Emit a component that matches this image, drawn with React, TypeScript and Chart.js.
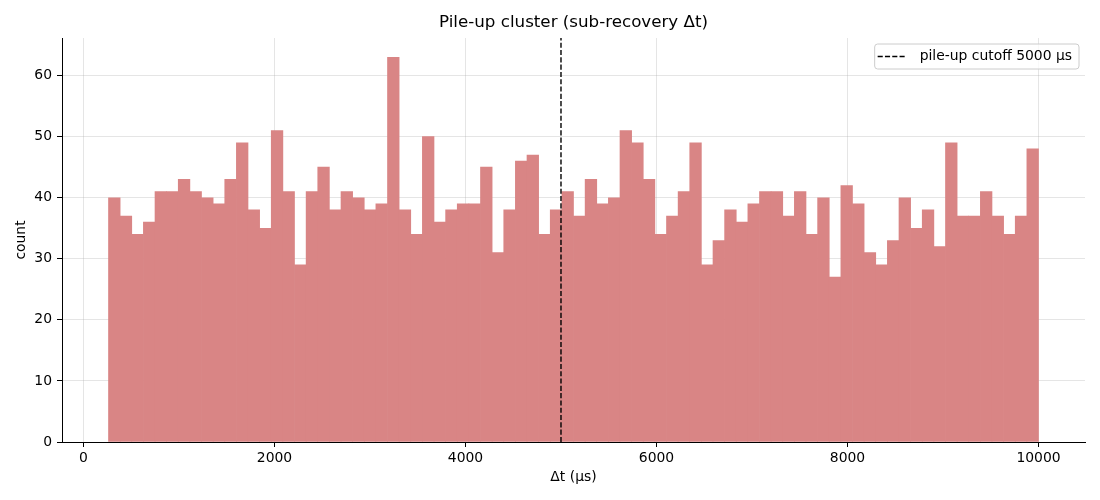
import React, { useEffect, useRef } from "react";
import { Chart, registerables } from "chart.js";

Chart.register(...registerables);

const TITLE = "Pile-up cluster (sub-recovery Δt)";
const X_LABEL = "Δt (µs)";
const Y_LABEL = "count";
const CUTOFF_LABEL = "pile-up cutoff 5000 µs";
const CUTOFF = 5000;

// histogram bin range (µs)
const BIN_START = 262;
const BIN_END = 10000;

// counts per bin (80 bins)
const COUNTS = [
  40, 37, 34, 36, 41, 41, 43, 41, 40, 39,
  43, 49, 38, 35, 51, 41, 29, 41, 45, 38,
  41, 40, 38, 39, 63, 38, 34, 50, 36, 38,
  39, 39, 45, 31, 38, 46, 47, 34, 38, 41,
  37, 43, 39, 40, 51, 49, 43, 34, 37, 41,
  49, 29, 33, 38, 36, 39, 41, 41, 37, 41,
  34, 40, 27, 42, 39, 31, 29, 33, 40, 35,
  38, 32, 49, 37, 37, 41, 37, 34, 37, 48,
];

const X_TICKS = [0, 2000, 4000, 6000, 8000, 10000];
const Y_TICKS = [0, 10, 20, 30, 40, 50, 60];

const X_MIN = -225;
const X_MAX = 10487;
const Y_MAX = 66.15;

const FONT = "'DejaVu Sans', 'Liberation Sans', sans-serif";
const BAR_COLOR = "rgb(217, 133, 133)";
const GRID_COLOR = "rgba(176, 176, 176, 0.33)";
const DASH = [5.1, 2.2];
const TICK_SIZE = 13.9;
const TITLE_SIZE = 16.7;

const titlePlugin = {
  id: "mplTitle",
  afterDraw(chart: any) {
    const { ctx, chartArea } = chart;
    ctx.save();
    ctx.font = `${TITLE_SIZE}px ${FONT}`;
    ctx.fillStyle = "#000";
    ctx.textAlign = "center";
    ctx.textBaseline = "middle";
    ctx.fillText(TITLE, (chartArea.left + chartArea.right) / 2, 23);
    ctx.restore();
  },
};

const legendPlugin = {
  id: "mplLegend",
  afterDraw(chart: any) {
    const { ctx, chartArea } = chart;
    const ds = chart.data.datasets[0];
    ctx.save();
    ctx.font = `${TICK_SIZE}px ${FONT}`;
    const tw = ctx.measureText(ds.label).width;
    const boxRight = chartArea.right - 6;
    const boxTop = chartArea.top + 6;
    const boxH = 25;
    const textRight = boxRight - 7;
    const textLeft = textRight - tw;
    const boxLeft = textLeft - 45;
    const r = 3;
    ctx.beginPath();
    ctx.moveTo(boxLeft + r, boxTop);
    ctx.lineTo(boxRight - r, boxTop);
    ctx.quadraticCurveTo(boxRight, boxTop, boxRight, boxTop + r);
    ctx.lineTo(boxRight, boxTop + boxH - r);
    ctx.quadraticCurveTo(boxRight, boxTop + boxH, boxRight - r, boxTop + boxH);
    ctx.lineTo(boxLeft + r, boxTop + boxH);
    ctx.quadraticCurveTo(boxLeft, boxTop + boxH, boxLeft, boxTop + boxH - r);
    ctx.lineTo(boxLeft, boxTop + r);
    ctx.quadraticCurveTo(boxLeft, boxTop, boxLeft + r, boxTop);
    ctx.closePath();
    ctx.fillStyle = "rgba(255,255,255,0.8)";
    ctx.fill();
    ctx.strokeStyle = "rgb(204,204,204)";
    ctx.lineWidth = 1;
    ctx.stroke();

    const cy = boxTop + boxH / 2;
    ctx.beginPath();
    ctx.setLineDash(DASH);
    ctx.strokeStyle = "#000";
    ctx.lineWidth = 1.4;
    ctx.moveTo(boxLeft + 3, cy);
    ctx.lineTo(boxLeft + 30, cy);
    ctx.stroke();
    ctx.setLineDash([]);

    ctx.fillStyle = "#000";
    ctx.textAlign = "left";
    ctx.textBaseline = "middle";
    ctx.fillText(ds.label, textLeft, cy);
    ctx.restore();
  },
};

export default function App() {
  const ref = useRef<HTMLCanvasElement | null>(null);

  useEffect(() => {
    if (!ref.current) return;
    const binWidth = (BIN_END - BIN_START) / COUNTS.length;
    const barData = COUNTS.map((c, i) => ({ x: BIN_START + (i + 0.5) * binWidth, y: c }));

    const chart = new Chart(ref.current, {
      type: "bar",
      data: {
        datasets: [
          {
            type: "line",
            label: CUTOFF_LABEL,
            data: [
              { x: CUTOFF, y: 0 },
              { x: CUTOFF, y: Y_MAX },
            ],
            borderColor: "#000",
            borderWidth: 1.4,
            borderDash: DASH,
            pointRadius: 0,
            fill: false,
            order: 0,
          } as any,
          {
            type: "bar",
            label: "Δt",
            data: barData,
            backgroundColor: BAR_COLOR,
            borderWidth: 0,
            barPercentage: 1,
            categoryPercentage: 1,
            order: 1,
          } as any,
        ],
      },
      options: {
        responsive: false,
        animation: false,
        devicePixelRatio: 1,
        layout: { padding: { top: 38, right: 15, left: 0, bottom: 0 } },
        plugins: {
          legend: { display: false },
          title: { display: false },
          tooltip: { enabled: false },
        },
        scales: {
          x: {
            type: "linear",
            min: X_MIN,
            max: X_MAX,
            offset: false,
            z: 1,
            afterFit: (s: any) => {
              s.height = 58;
            },
            afterBuildTicks: (s: any) => {
              s.ticks = X_TICKS.map((v) => ({ value: v }));
            },
            grid: {
              offset: false,
              color: GRID_COLOR,
              lineWidth: 1,
              drawTicks: true,
              tickLength: 5,
              tickColor: "#000",
              tickWidth: 1,
            },
            border: { display: true, color: "#000", width: 1 },
            ticks: {
              autoSkip: false,
              maxRotation: 0,
              padding: 3,
              color: "#000",
              font: { family: FONT, size: TICK_SIZE },
              callback: (v: any) => String(v),
            },
            title: {
              display: true,
              text: X_LABEL,
              color: "#000",
              font: { family: FONT, size: TICK_SIZE },
              padding: { top: 0, bottom: 14 },
            },
          },
          y: {
            type: "linear",
            min: 0,
            max: Y_MAX,
            z: 1,
            afterFit: (s: any) => {
              s.width = 62;
            },
            afterBuildTicks: (s: any) => {
              s.ticks = Y_TICKS.map((v) => ({ value: v }));
            },
            grid: {
              color: GRID_COLOR,
              lineWidth: 1,
              drawTicks: true,
              tickLength: 5,
              tickColor: "#000",
              tickWidth: 1,
            },
            border: { display: true, color: "#000", width: 1 },
            ticks: {
              padding: 5,
              color: "#000",
              font: { family: FONT, size: TICK_SIZE },
              callback: (v: any) => String(v),
            },
            title: {
              display: true,
              text: Y_LABEL,
              color: "#000",
              font: { family: FONT, size: TICK_SIZE },
              padding: { top: 13, bottom: 0 },
            },
          },
        },
      },
      plugins: [titlePlugin, legendPlugin],
    });
    return () => chart.destroy();
  }, []);

  return (
    <div style={{ position: "absolute", left: 0, top: 0, width: 1100, height: 500, background: "#fff" }}>
      <canvas ref={ref} width={1100} height={500} style={{ width: 1100, height: 500, display: "block" }} />
    </div>
  );
}
